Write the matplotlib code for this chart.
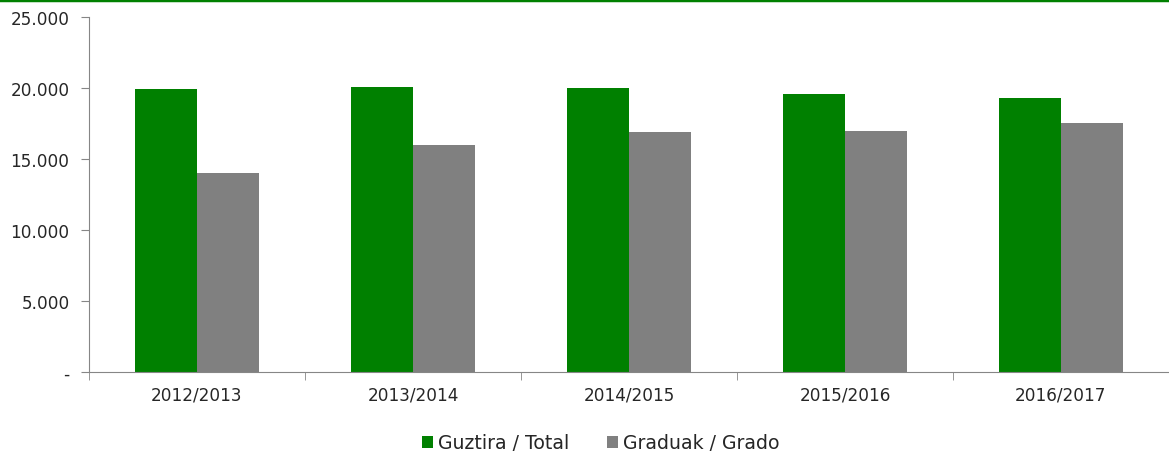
import matplotlib.pyplot as plt
import numpy as np

courses = ['2012/2013', '2013/2014', '2014/2015', '2015/2016', '2016/2017']
guztira = [19950, 20080, 20000, 19600, 19300]
graduak = [14050, 16000, 16880, 16980, 17540]
yticks = [0, 5000, 10000, 15000, 20000, 25000]
ylabels = ['-', '5.000', '10.000', '15.000', '20.000', '25.000']

plt.rcParams['font.family'] = ['DejaVu Sans']

fig = plt.figure(figsize=(11.69, 4.52), dpi=100)
ax = fig.add_axes([0.0761, 0.1748, 0.9239, 0.7852])

x = np.arange(len(courses))
w = 0.287
ax.bar(x - w / 2, guztira, w, color='#008000', label='Guztira / Total')
ax.bar(x + w / 2, graduak, w, color='#808080', label='Graduak / Grado')

ax.set_xlim(-0.5, len(courses) - 0.5)
ax.set_ylim(0, 25000)
ax.set_yticks(yticks)
ax.set_yticklabels(ylabels, fontsize=12.2, color='#262626')
ax.set_xticks(x)
ax.set_xticklabels(courses, fontsize=12.2, color='#262626')
ax.tick_params(axis='x', length=0, pad=10)
ax.set_xticks(np.arange(len(courses) + 1) - 0.5, minor=True)
ax.tick_params(axis='x', which='minor', length=6, color='#868686')
ax.tick_params(axis='y', length=6, color='#868686', pad=8)

for s in ['top', 'right']:
    ax.spines[s].set_visible(False)
for s in ['left', 'bottom']:
    ax.spines[s].set_color('#868686')

ax.legend(loc='upper center', bbox_to_anchor=(0.4735, -0.125), ncol=2, frameon=False,
          fontsize=13.6, handlelength=0.6, handleheight=0.6, handletextpad=0.25,
          columnspacing=2.0, labelcolor='#262626')

fig.add_artist(plt.Line2D([0, 1], [0.997, 0.997], color='#008000', lw=2.5,
                          transform=fig.transFigure))

fig.savefig('out.png', dpi=100)
